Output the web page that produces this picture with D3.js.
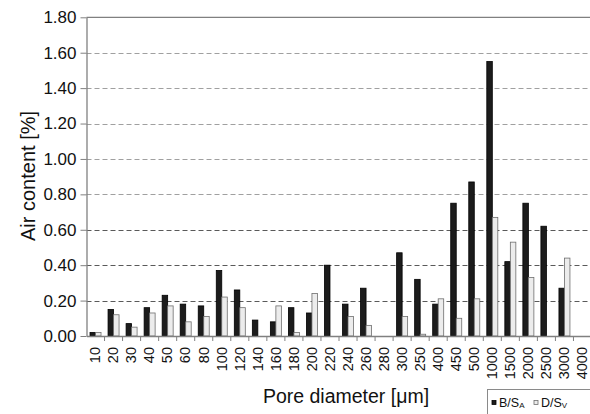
<!DOCTYPE html>
<html>
<head>
<meta charset="utf-8">
<script src="https://cdn.jsdelivr.net/npm/d3@7"></script>
<style>
  html, body { margin: 0; padding: 0; background: #fff; }
  svg { display: block; }
  svg text { font-family: "Liberation Sans", Arial, sans-serif; }
</style>
</head>
<body>
<svg id="chart" width="590" height="414"></svg>
<script>
// Pore size classes (µm) as printed on the axis
const categories = ["10","20","30","40","50","60","80","100","120","140","160","180","200","220","240","260","280","300","250","400","450","500","1000","1500","2000","2500","3000","4000"];
// Air content [%] per class
const seriesBSA = [0.02,0.15,0.07,0.16,0.23,0.18,0.17,0.37,0.26,0.09,0.08,0.16,0.13,0.40,0.18,0.27,0,0.47,0.32,0.18,0.75,0.87,1.55,0.42,0.75,0.62,0.27,0];
const seriesDSV = [0.02,0.12,0.05,0.13,0.17,0.08,0.11,0.22,0.16,0,0.17,0.02,0.24,0,0.11,0.06,0,0.11,0.01,0.21,0.10,0.21,0.67,0.53,0.33,0,0.44,0];
const seriesNames = ["B/S_A", "D/S_V"];
const yTicks = [0,0.2,0.4,0.6,0.8,1.0,1.2,1.4,1.6,1.8];

const FONT = "'Liberation Sans', Arial, sans-serif";
const svg = d3.select("#chart");
const plotLeft = 86.5, plotRight = 591.5, plotTop = 17.3, plotBottom = 336;

const x = d3.scaleBand().domain(categories).range([plotLeft, plotRight]).padding(0);
const y = d3.scaleLinear().domain([0, 1.8]).range([plotBottom, plotTop]);
const sub = d3.scaleBand().domain(seriesNames)
  .range([x.bandwidth() / 2 - 5.5, x.bandwidth() / 2 + 5.5]);

// horizontal dashed gridlines
svg.append("g").selectAll("line")
  .data(yTicks.filter(t => t > 0 && t < 1.8))
  .join("line")
  .attr("x1", plotLeft).attr("x2", plotRight + 2)
  .attr("y1", d => Math.round(y(d)) + 0.5).attr("y2", d => Math.round(y(d)) + 0.5)
  .attr("stroke", d => d <= 0.6 ? "#5a5a5a" : "#a0a0a0")
  .attr("stroke-width", 1)
  .attr("stroke-dasharray", "5,3");

// top frame line
svg.append("line")
  .attr("x1", plotLeft).attr("x2", plotRight + 2)
  .attr("y1", y(1.8)).attr("y2", y(1.8))
  .attr("stroke", "#808080").attr("stroke-width", 1.3);

// bars
const rows = categories.map((c, i) => ({ c, vals: [seriesBSA[i], seriesDSV[i]] }));
const fills = { "B/S_A": "#1c1c1c", "D/S_V": "#ececec" };
const strokes = { "B/S_A": "#000", "D/S_V": "#6e6e6e" };
const groups = svg.append("g").selectAll("g")
  .data(rows).join("g")
  .attr("transform", d => `translate(${x(d.c)},0)`);
groups.selectAll("rect")
  .data(d => d.vals.map((v, k) => ({ name: seriesNames[k], v })).filter(e => e.v > 0))
  .join("rect")
  .attr("x", d => sub(d.name))
  .attr("width", sub.bandwidth())
  .attr("y", d => y(d.v))
  .attr("height", d => y(0) - y(d.v))
  .attr("fill", d => fills[d.name])
  .attr("stroke", d => strokes[d.name])
  .attr("stroke-width", 0.8);

// y axis
const yAxis = svg.append("g")
  .attr("transform", `translate(${plotLeft},0)`)
  .call(d3.axisLeft(y).tickValues(yTicks).tickFormat(d3.format(".2f")).tickSize(6).tickSizeOuter(0).tickPadding(4));
yAxis.attr("font-family", FONT);
yAxis.select(".domain").attr("stroke", "#808080").attr("stroke-width", 1.3);
yAxis.selectAll(".tick line").attr("stroke", "#808080");
yAxis.selectAll(".tick text").attr("font-size", 17).attr("fill", "#111")
  .attr("font-family", FONT);

// x axis
const xAxis = svg.append("g")
  .attr("transform", `translate(0,${plotBottom})`)
  .call(d3.axisBottom(x).tickSize(0).tickSizeOuter(0).tickPadding(0));
xAxis.attr("font-family", FONT);
xAxis.select(".domain").attr("stroke", "#808080").attr("stroke-width", 1.3);
xAxis.selectAll(".tick text")
  .attr("font-size", 14.5).attr("fill", "#111")
  .attr("font-family", FONT)
  .attr("text-anchor", "end")
  .attr("transform", "translate(0,11) rotate(-90)")
  .attr("x", 0).attr("y", 0).attr("dy", "0.33em");
// category boundary ticks
svg.append("g").selectAll("line")
  .data(categories.slice(1))
  .join("line")
  .attr("x1", d => x(d)).attr("x2", d => x(d))
  .attr("y1", plotBottom).attr("y2", plotBottom + 5)
  .attr("stroke", "#808080");

// axis titles
svg.append("text")
  .attr("transform", "translate(35,176) rotate(-90)")
  .attr("text-anchor", "middle")
  .attr("font-family", FONT)
  .attr("font-size", 20).attr("fill", "#111")
  .text("Air content [%]");
svg.append("text")
  .attr("x", 346).attr("y", 403)
  .attr("text-anchor", "middle")
  .attr("font-family", FONT)
  .attr("font-size", 19.5).attr("fill", "#111")
  .text("Pore diameter [\u03BCm]");

// legend
const lg = svg.append("g");
lg.append("rect").attr("x", 487.5).attr("y", 389.5).attr("width", 110).attr("height", 30)
  .attr("fill", "#fff").attr("stroke", "#8a8a8a");
const legendItems = [
  { name: "B/S_A", main: "B/S", subTxt: "A", mx: 492, tx: 499 },
  { name: "D/S_V", main: "D/S", subTxt: "V", mx: 534, tx: 541 }
];
legendItems.forEach(it => {
  lg.append("rect").attr("x", it.mx).attr("y", 400.5).attr("width", 4).attr("height", 4)
    .attr("fill", fills[it.name]).attr("stroke", strokes[it.name]).attr("stroke-width", 0.8);
  const t = lg.append("text").attr("x", it.tx).attr("y", 407)
    .attr("font-family", FONT).attr("font-size", 12.5).attr("fill", "#111");
  t.append("tspan").text(it.main);
  t.append("tspan").attr("font-size", 8).attr("dy", 1).text(it.subTxt);
});
</script>
</body>
</html>
